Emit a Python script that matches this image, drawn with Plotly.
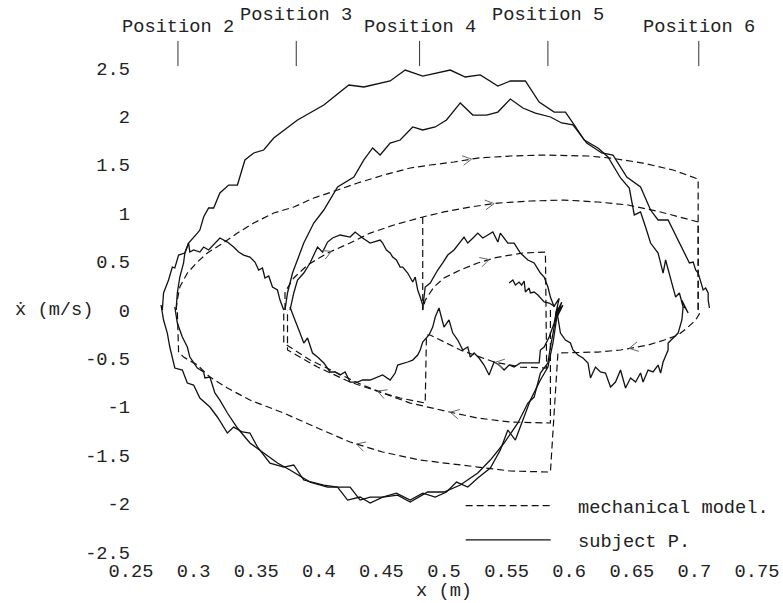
import math
import plotly.graph_objects as go

# ---------------- data (x in m, xdot in m/s) ----------------
x_tick_vals = [0.25, 0.3, 0.35, 0.4, 0.45, 0.5, 0.55, 0.6, 0.65, 0.7, 0.75]
x_tick_text = ["0.25", "0.3", "0.35", "0.4", "0.45", "0.5", "0.55", "0.6", "0.65", "0.7", "0.75"]
y_tick_vals = [-2.5, -2, -1.5, -1, -0.5, 0, 0.5, 1, 1.5, 2, 2.5]
y_tick_text = ["-2.5", "-2", "-1.5", "-1", "-0.5", "0", "0.5", "1", "1.5", "2", "2.5"]

position_x = [0.2875, 0.382, 0.4805, 0.583, 0.7035]
position_names = ["Position 2", "Position 3", "Position 4", "Position 5", "Position 6"]

# subject P. : measured trajectories
subj_2_to_6 = [(0.275, 0.0), (0.276, 0.176), (0.280, 0.310), (0.283, 0.444), (0.285, 0.434), (0.288, 0.568),
               (0.293, 0.589), (0.296, 0.692), (0.303, 0.795), (0.305, 0.826), (0.308, 0.961), (0.312, 1.054),
               (0.316, 1.054), (0.321, 1.209), (0.328, 1.291), (0.335, 1.291), (0.341, 1.550), (0.348, 1.622),
               (0.356, 1.653), (0.364, 1.777), (0.383, 1.963), (0.404, 2.118), (0.424, 2.324), (0.436, 2.304),
               (0.457, 2.366), (0.469, 2.479), (0.483, 2.417), (0.493, 2.448), (0.505, 2.479), (0.517, 2.407),
               (0.529, 2.428), (0.543, 2.314), (0.553, 2.366), (0.565, 2.366), (0.576, 2.149), (0.588, 2.045),
               (0.597, 2.045), (0.604, 1.912), (0.612, 1.756), (0.623, 1.674), (0.631, 1.581), (0.641, 1.364),
               (0.648, 1.260), (0.652, 0.982), (0.657, 1.013), (0.661, 0.857), (0.665, 0.692), (0.671, 0.589),
               (0.675, 0.382), (0.677, 0.517), (0.681, 0.310), (0.685, 0.134), (0.688, 0.176), (0.691, 0.031),
               (0.693, 0.021), (0.690, 0.100), (0.694, -0.020), (0.691, 0.070), (0.695, -0.030), (0.692, 0.040)]
subj_3_to_6 = [(0.373, 0.0), (0.375, 0.176), (0.379, 0.382), (0.383, 0.517), (0.388, 0.692), (0.396, 0.899),
               (0.404, 1.033), (0.415, 1.271), (0.428, 1.374), (0.436, 1.550), (0.443, 1.674), (0.449, 1.601),
               (0.457, 1.725), (0.465, 1.756), (0.475, 1.891), (0.483, 1.860), (0.493, 1.891), (0.502, 1.963),
               (0.513, 2.139), (0.523, 2.014), (0.534, 2.014), (0.543, 2.045), (0.553, 2.180), (0.563, 2.087),
               (0.573, 2.035), (0.585, 1.994), (0.594, 1.932), (0.603, 1.912), (0.614, 1.725), (0.626, 1.622),
               (0.635, 1.601), (0.646, 1.374), (0.657, 1.271), (0.665, 1.033), (0.671, 0.930), (0.679, 0.930),
               (0.687, 0.723), (0.691, 0.620), (0.693, 0.568), (0.696, 0.486), (0.699, 0.496), (0.701, 0.413),
               (0.703, 0.382), (0.705, 0.279), (0.707, 0.207), (0.709, 0.227), (0.711, 0.176), (0.711, 0.103),
               (0.712, 0.021)]
subj_2_to_3 = [(0.286, 0.0), (0.287, 0.176), (0.289, 0.341), (0.292, 0.486), (0.293, 0.589), (0.296, 0.692),
               (0.297, 0.599), (0.300, 0.620), (0.305, 0.599), (0.308, 0.651), (0.312, 0.620), (0.316, 0.671),
               (0.321, 0.744), (0.327, 0.702), (0.332, 0.651), (0.336, 0.599), (0.340, 0.568), (0.345, 0.547),
               (0.349, 0.496), (0.352, 0.413), (0.355, 0.434), (0.357, 0.331), (0.360, 0.351), (0.363, 0.238),
               (0.367, 0.207), (0.369, 0.103), (0.372, 0.0)]
subj_3_to_4 = [(0.377, 0.0), (0.380, 0.176), (0.383, 0.310), (0.388, 0.382), (0.393, 0.486), (0.397, 0.589),
               (0.399, 0.651), (0.403, 0.599), (0.407, 0.702), (0.411, 0.744), (0.417, 0.775), (0.425, 0.754),
               (0.429, 0.806), (0.435, 0.744), (0.441, 0.692), (0.449, 0.723), (0.451, 0.692), (0.454, 0.620),
               (0.457, 0.589), (0.459, 0.547), (0.462, 0.517), (0.465, 0.444), (0.467, 0.444), (0.471, 0.382),
               (0.473, 0.331), (0.475, 0.289), (0.477, 0.341), (0.479, 0.207), (0.481, 0.134), (0.483, 0.052),
               (0.483, 0.0)]
subj_4_to_5 = [(0.483, 0.021), (0.485, 0.238), (0.489, 0.279), (0.495, 0.413), (0.499, 0.486), (0.503, 0.568),
               (0.508, 0.620), (0.512, 0.692), (0.516, 0.754), (0.519, 0.692), (0.521, 0.713), (0.524, 0.754),
               (0.527, 0.795), (0.531, 0.744), (0.535, 0.775), (0.539, 0.806), (0.543, 0.702), (0.545, 0.795),
               (0.551, 0.692), (0.556, 0.692), (0.561, 0.589), (0.567, 0.517), (0.572, 0.486), (0.577, 0.382),
               (0.580, 0.341), (0.583, 0.238), (0.585, 0.134), (0.588, 0.031)]
subj_near_5 = [(0.552, 0.279), (0.555, 0.310), (0.557, 0.258), (0.560, 0.289), (0.562, 0.258), (0.564, 0.300),
               (0.565, 0.186), (0.568, 0.227), (0.569, 0.176), (0.572, 0.186), (0.575, 0.155), (0.577, 0.124),
               (0.580, 0.083), (0.584, 0.072), (0.588, 0.041), (0.592, 0.120), (0.589, -0.050), (0.594, 0.080),
               (0.590, -0.080), (0.595, 0.050), (0.591, -0.030)]
subj_6_to_5 = [(0.691, 0.031), (0.690, -0.103), (0.687, -0.238), (0.683, -0.289), (0.679, -0.341), (0.679, -0.413),
               (0.675, -0.537), (0.673, -0.651), (0.671, -0.568), (0.667, -0.640), (0.663, -0.620), (0.659, -0.744),
               (0.657, -0.651), (0.653, -0.744), (0.649, -0.702), (0.645, -0.806), (0.641, -0.620), (0.637, -0.744),
               (0.633, -0.795), (0.629, -0.651), (0.625, -0.640), (0.621, -0.589), (0.617, -0.702), (0.615, -0.547),
               (0.611, -0.496), (0.607, -0.465), (0.603, -0.413), (0.601, -0.341), (0.597, -0.310), (0.593, -0.238),
               (0.591, -0.103), (0.590, 0.0)]
subj_5_to_3 = [(0.590, 0.0), (0.588, -0.134), (0.584, -0.279), (0.580, -0.382), (0.577, -0.413), (0.576, -0.547),
               (0.569, -0.547), (0.561, -0.547), (0.556, -0.589), (0.552, -0.568), (0.548, -0.620), (0.544, -0.568),
               (0.540, -0.537), (0.536, -0.671), (0.532, -0.568), (0.528, -0.496), (0.524, -0.444), (0.521, -0.486),
               (0.519, -0.382), (0.515, -0.413), (0.511, -0.310), (0.507, -0.238), (0.504, -0.103), (0.500, -0.176),
               (0.496, 0.021), (0.493, -0.072), (0.491, -0.176), (0.488, -0.258), (0.483, -0.331), (0.481, -0.413),
               (0.479, -0.465), (0.475, -0.517), (0.471, -0.537), (0.463, -0.568), (0.461, -0.651), (0.457, -0.723),
               (0.451, -0.671), (0.447, -0.692), (0.441, -0.723), (0.435, -0.723), (0.431, -0.744), (0.425, -0.744),
               (0.421, -0.640), (0.417, -0.671), (0.413, -0.640), (0.409, -0.640), (0.404, -0.547), (0.399, -0.486),
               (0.395, -0.444), (0.391, -0.289), (0.388, -0.341), (0.385, -0.238), (0.383, -0.176), (0.380, -0.072),
               (0.377, 0.031)]
subj_5_to_2_a = [(0.591, 0.0), (0.589, -0.176), (0.587, -0.341), (0.583, -0.589), (0.577, -0.723), (0.569, -0.930),
                 (0.563, -1.136), (0.557, -1.343), (0.551, -1.240), (0.545, -1.446), (0.537, -1.632), (0.527, -1.736),
                 (0.519, -1.829), (0.510, -1.777), (0.502, -1.880), (0.493, -1.932), (0.483, -1.891), (0.473, -1.963),
                 (0.462, -1.891), (0.451, -1.932), (0.441, -1.932), (0.433, -1.963), (0.425, -1.829), (0.415, -1.829),
                 (0.404, -1.808), (0.388, -1.756), (0.380, -1.601), (0.372, -1.622), (0.361, -1.581), (0.351, -1.415),
                 (0.345, -1.271), (0.339, -1.260), (0.332, -1.209), (0.327, -1.271), (0.319, -1.105), (0.313, -1.002),
                 (0.305, -0.909), (0.300, -0.775), (0.295, -0.754), (0.291, -0.620), (0.285, -0.599), (0.281, -0.382),
                 (0.279, -0.238), (0.276, -0.103), (0.274, 0.052)]
subj_5_to_2_b = [(0.591, 0.031), (0.589, -0.103), (0.585, -0.382), (0.583, -0.547), (0.577, -0.651), (0.572, -0.899),
                 (0.567, -0.961), (0.559, -1.167), (0.548, -1.374), (0.537, -1.550), (0.527, -1.684), (0.513, -1.808),
                 (0.500, -1.880), (0.487, -1.880), (0.473, -1.984), (0.463, -1.912), (0.451, -1.932), (0.441, -1.994),
                 (0.433, -1.932), (0.423, -1.963), (0.415, -1.829), (0.407, -1.829), (0.393, -1.777), (0.377, -1.653),
                 (0.367, -1.581), (0.356, -1.477), (0.345, -1.374), (0.335, -1.219), (0.327, -1.064), (0.321, -0.930),
                 (0.317, -0.857), (0.313, -0.692), (0.309, -0.702), (0.308, -0.640), (0.303, -0.599), (0.297, -0.486),
                 (0.295, -0.382), (0.291, -0.279), (0.287, -0.134), (0.285, 0.031)]

# mechanical model : simulated trajectories
model_2_6_5_2 = [(0.286, 0.0), (0.287, 0.103), (0.289, 0.238), (0.295, 0.382), (0.303, 0.496), (0.311, 0.589),
                 (0.321, 0.671), (0.335, 0.795), (0.348, 0.899), (0.364, 1.002), (0.380, 1.064), (0.396, 1.157),
                 (0.415, 1.240), (0.431, 1.312), (0.452, 1.395), (0.473, 1.467), (0.489, 1.498), (0.508, 1.529),
                 (0.527, 1.570), (0.553, 1.591), (0.580, 1.601), (0.615, 1.591), (0.633, 1.570), (0.659, 1.518),
                 (0.683, 1.446), (0.703, 1.353), (0.703, 0.0), (0.704, -0.040), (0.701, -0.103), (0.695, -0.176),
                 (0.687, -0.258), (0.676, -0.310), (0.663, -0.362), (0.649, -0.393), (0.641, -0.413), (0.623, -0.434),
                 (0.601, -0.444), (0.591, -0.444), (0.585, -1.674), (0.553, -1.663), (0.527, -1.622), (0.500, -1.581),
                 (0.481, -1.550), (0.451, -1.467), (0.425, -1.364), (0.399, -1.219), (0.372, -1.064), (0.345, -0.930),
                 (0.327, -0.806), (0.313, -0.692), (0.303, -0.568), (0.292, -0.486), (0.288, -0.434), (0.287, 0.0)]
model_3_6 = [(0.373, 0.0), (0.373, 0.186), (0.380, 0.331), (0.391, 0.465), (0.407, 0.589), (0.425, 0.692),
             (0.441, 0.795), (0.460, 0.878), (0.483, 0.961), (0.500, 1.013), (0.521, 1.064), (0.543, 1.105),
             (0.569, 1.126), (0.596, 1.136), (0.623, 1.116), (0.647, 1.085), (0.673, 1.013), (0.703, 0.909),
             (0.703, 0.0)]
model_4_5_4_3 = [(0.483, 0.961), (0.483, 0.0), (0.485, 0.103), (0.492, 0.238), (0.500, 0.331), (0.513, 0.413),
                 (0.527, 0.486), (0.540, 0.537), (0.553, 0.568), (0.563, 0.589), (0.581, 0.599), (0.582, -0.599),
                 (0.561, -0.589), (0.540, -0.537), (0.513, -0.413), (0.489, -0.258), (0.486, -0.258), (0.485, -0.961),
                 (0.465, -0.909), (0.451, -0.857), (0.435, -0.775), (0.415, -0.651), (0.393, -0.517), (0.372, -0.341),
                 (0.372, 0.0)]
model_5_3 = [(0.585, 0.0), (0.585, -1.167), (0.553, -1.157), (0.527, -1.116), (0.508, -1.064), (0.487, -1.002),
             (0.473, -0.961), (0.451, -0.857), (0.425, -0.744), (0.399, -0.589), (0.375, -0.413), (0.375, 0.0)]

subject_runs = [subj_2_to_6, subj_3_to_6, subj_2_to_3, subj_3_to_4, subj_4_to_5, subj_near_5,
                subj_6_to_5, subj_5_to_3, subj_5_to_2_a, subj_5_to_2_b]
model_runs = [model_2_6_5_2, model_3_6, model_4_5_4_3, model_5_3]

# direction arrows on the model: (run, x where drawn, approx. velocity to pick the branch)
model_arrows = [(model_2_6_5_2, 0.522, 1.55), (model_3_6, 0.540, 1.10), (model_3_6, 0.410, 0.60),
                (model_4_5_4_3, 0.536, 0.53), (model_4_5_4_3, 0.541, -0.55), (model_4_5_4_3, 0.447, -0.80),
                (model_5_3, 0.505, -1.06), (model_2_6_5_2, 0.430, -1.40), (model_2_6_5_2, 0.648, -0.40)]


# ---------------- helpers ----------------
def join(runs):
    xs, ys = [], []
    for r in runs:
        xs += [p[0] for p in r] + [None]
        ys += [p[1] for p in r] + [None]
    return xs, ys


PX_X, PX_Y = 1252.0, 96.8   # screen px per data unit (arrow-head shape only)


def chevron(run, x_at, y_hint, arm=10.0, half=0.5):
    best = None
    for (x0, y0), (x1, y1) in zip(run[:-1], run[1:]):
        if x0 == x1 or (x0 - x_at) * (x1 - x_at) > 0:
            continue
        t = (x_at - x0) / (x1 - x0)
        yy = y0 + t * (y1 - y0)
        if best is None or abs(yy - y_hint) < abs(best[1] - y_hint):
            best = (x_at, yy, (x1 - x0) * PX_X, (y1 - y0) * PX_Y)
    x, y, dx, dy = best
    n = math.hypot(dx, dy)
    dx, dy = dx / n, dy / n
    pts = []
    for s in (1, -1):
        c, sn = math.cos(half), math.sin(s * half)
        bx, by = -(dx * c - dy * sn), -(dx * sn + dy * c)
        pts.append((x + bx * arm / PX_X, y + by * arm / PX_Y))
    return [pts[0][0], x, pts[1][0], None], [pts[0][1], y, pts[1][1], None]


FONT = "Liberation Mono, Courier New, monospace"
FS = 18.7
TXT = "#222"
fig = go.Figure()

mx, my = join(model_runs)
fig.add_trace(go.Scatter(x=mx, y=my, mode="lines", name="\u00a0\u00a0mechanical model.",
                         legendgroup="m", line=dict(color="#111", width=1.2, dash="7px,4px")))
sx, sy = join(subject_runs)
fig.add_trace(go.Scatter(x=sx, y=sy, mode="lines", name="\u00a0\u00a0subject P.",
                         legendgroup="s", line=dict(color="#111", width=1.3)))

ax, ay = [], []
for run, xa, yh in model_arrows:
    cx, cy = chevron(run, xa, yh)
    ax += cx
    ay += cy
fig.add_trace(go.Scatter(x=ax, y=ay, mode="lines", showlegend=False, hoverinfo="skip",
                         line=dict(color="#666", width=1)))

px_, py_ = [], []
for p in position_x:
    px_ += [p, p, None]
    py_ += [2.52, 2.78, None]
fig.add_trace(go.Scatter(x=px_, y=py_, mode="lines", showlegend=False, hoverinfo="skip",
                         line=dict(color="#333", width=1)))

annotations = []
for i, (p, name) in enumerate(zip(position_x, position_names)):
    annotations.append(dict(x=p, y=1.0154 if i % 2 == 0 else 1.0384, xref="x", yref="paper", text=name,
                            showarrow=False, xanchor="center", yanchor="middle",
                            font=dict(family=FONT, size=FS, color=TXT)))
annotations.append(dict(x=-0.1885, y=0, xref="paper", yref="y", text="\u1e8b (m/s)", showarrow=False,
                        xanchor="left", yanchor="middle", font=dict(family=FONT, size=FS, color=TXT)))
# x-axis title, placed at the bottom edge of the page like the reference
annotations.append(dict(x=0.5, y=-0.0902, xref="paper", yref="paper", text="x (m)", showarrow=False,
                        xanchor="center", yanchor="bottom", borderpad=0,
                        font=dict(family=FONT, size=FS, color=TXT)))

fig.update_layout(
    width=783, height=603,
    margin=dict(l=131, r=26, t=35, b=47, autoexpand=False),
    paper_bgcolor="white", plot_bgcolor="white",
    font=dict(family=FONT, size=FS, color=TXT),
    showlegend=True,
    legend=dict(x=0.5266, y=0.1325, xanchor="left", yanchor="top", bgcolor="rgba(0,0,0,0)",
                itemwidth=85, traceorder="grouped", tracegroupgap=7, borderwidth=0,
                font=dict(family=FONT, size=FS, color=TXT)),
    xaxis=dict(range=[0.25, 0.75], tickmode="array", tickvals=x_tick_vals, ticktext=x_tick_text,
               showgrid=False, zeroline=False, showline=False, ticks="", ticklabelstandoff=1,
               automargin=False),
    yaxis=dict(range=[-2.541, 2.841], tickmode="array", tickvals=y_tick_vals, ticktext=y_tick_text,
               showgrid=False, zeroline=False, showline=False, ticks="", automargin=False),
    annotations=annotations,
)

fig.write_html("out.html")
